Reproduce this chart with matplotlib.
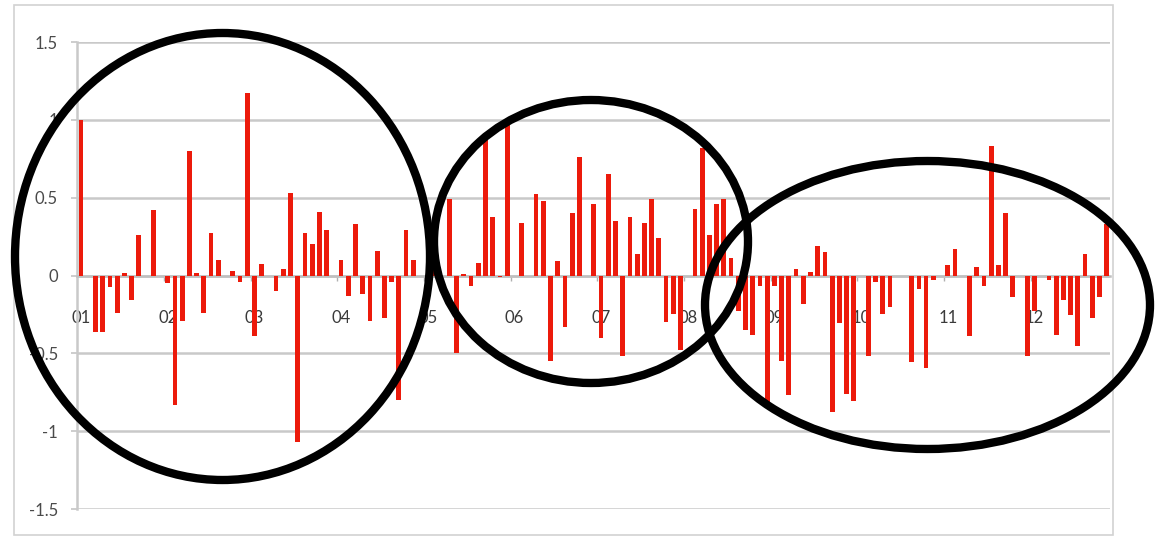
import numpy as np
import matplotlib
matplotlib.use('Agg')
import matplotlib.pyplot as plt
from matplotlib.patches import Ellipse, Rectangle

# monthly values, Jan 01 .. Nov 12
values = [
    1.00, 0.00, -0.36, -0.36, -0.075, -0.24, 0.015, -0.155, 0.26, 0.00, 0.42, 0.00,
    -0.05, -0.83, -0.29, 0.80, 0.015, -0.24, 0.27, 0.10, 0.00, 0.03, -0.04, 1.17,
    -0.39, 0.075, 0.00, -0.10, 0.04, 0.53, -1.07, 0.275, 0.20, 0.41, 0.29, 0.00,
    0.10, -0.13, 0.33, -0.12, -0.29, 0.155, -0.27, -0.04, -0.80, 0.29, 0.10, 0.00,
    0.00, 0.34, 0.00, 0.49, -0.50, 0.01, -0.07, 0.08, 0.895, 0.375, -0.01, 0.99,
    0.00, 0.34, 0.00, 0.525, 0.48, -0.55, 0.09, -0.33, 0.40, 0.76, 0.00, 0.46,
    -0.40, 0.655, 0.35, -0.515, 0.375, 0.14, 0.34, 0.49, 0.24, -0.30, -0.25, -0.48,
    0.00, 0.425, 0.82, 0.26, 0.46, 0.49, 0.11, -0.225, -0.35, -0.38, -0.07, -0.84,
    -0.07, -0.55, -0.77, 0.04, -0.18, 0.02, 0.19, 0.15, -0.875, -0.305, -0.76, -0.805,
    0.00, -0.515, -0.04, -0.245, -0.20, -0.005, -0.005, -0.555, -0.085, -0.595, -0.03, 0.00,
    0.07, 0.17, 0.00, -0.39, 0.055, -0.065, 0.83, 0.065, 0.40, -0.135, 0.00, -0.515,
    -0.225, 0.00, -0.03, -0.38, -0.16, -0.255, -0.455, 0.135, -0.275, -0.14, 0.33,
]
year_labels = ['01', '02', '03', '04', '05', '06', '07', '08', '09', '10', '11', '12']
y_ticks = [-1.5, -1, -0.5, 0, 0.5, 1, 1.5]
y_tick_labels = ['-1.5', '-1', '-0.5', '0', '0.5', '1', '1.5']

plt.rcParams['font.family'] = ['Lato', 'DejaVu Sans']

W, H = 1156, 544
fig = plt.figure(figsize=(W / 100, H / 100), dpi=100)
ax = fig.add_axes([77.4 / W, 35 / H, 1032.9 / W, 467 / H])

x = np.arange(len(values))
ax.bar(x, values, width=0.66, color='#ec1a0b', zorder=3)

ax.set_xlim(-0.5, len(values) - 0.5)
ax.set_ylim(-1.5, 1.5)

# y axis and gridlines
ax.set_yticks(y_ticks)
ax.set_yticklabels(y_tick_labels)
ax.yaxis.grid(True, color='#c9c9c9', lw=1.8)
ax.set_axisbelow(True)
ax.tick_params(axis='y', length=4, width=1.3, color='#c9c9c9', pad=10,
               labelsize=12, labelcolor='#4a4a4a')

for s in ['top', 'right']:
    ax.spines[s].set_visible(False)
ax.spines['left'].set_color('#c9c9c9')
ax.spines['left'].set_linewidth(1.8)
ax.spines['bottom'].set_position(('data', 0))
ax.spines['bottom'].set_color('#c0c0c0')
ax.spines['bottom'].set_linewidth(1.8)

# x axis: year labels on January, small ticks between years
ax.set_xticks(x[::12])
ax.set_xticklabels(year_labels)
ax.set_xticks(np.arange(11.5, len(values), 12), minor=True)
ax.tick_params(axis='x', which='major', length=0, pad=25, labelsize=12,
               labelcolor='#3a3a3a')
ax.tick_params(axis='x', which='minor', length=3.5, width=1.0, color='#b0b0b0')

# overlay in pixel space: chart frame and the hand-drawn ellipses
ov = fig.add_axes([0, 0, 1, 1], zorder=5)
ov.set_xlim(0, W)
ov.set_ylim(H, 0)
ov.axis('off')
ov.patch.set_alpha(0)

ov.add_patch(Rectangle((14, 5), 1099, 530, fill=False, ec='#d2d2d2', lw=1.2))

for cx, cy, w, h in [(222.5, 256.5, 415, 447), (591, 241.5, 314, 283), (927.5, 305, 445, 288)]:
    ov.add_patch(Ellipse((cx, cy), w, h, fill=False, ec='black', lw=6))

fig.savefig('out.png', dpi=100)
